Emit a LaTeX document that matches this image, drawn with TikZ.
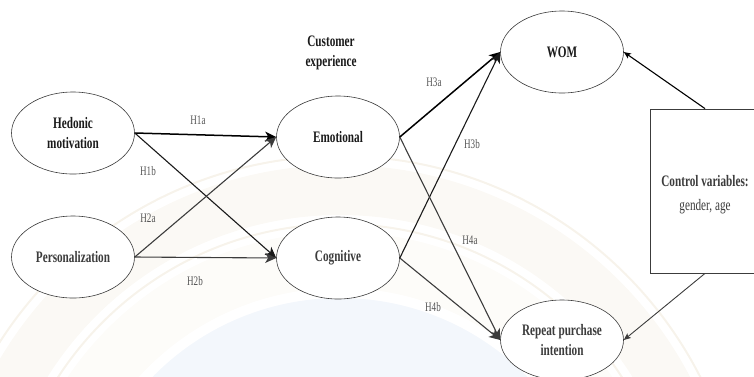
\documentclass[tikz,border=0pt]{standalone}
\usepackage{fontspec}
\setmainfont{Liberation Serif}[FakeStretch=0.7]
\usetikzlibrary{arrows.meta,shapes.geometric}

\definecolor{inkdark}{HTML}{1A1A1A}
\definecolor{inkgrey}{HTML}{3C3C3C}
\definecolor{labgrey}{HTML}{555555}
\definecolor{sealtan}{HTML}{D6C49A}
\definecolor{sealblue}{HTML}{C4D6EE}

\tikzset{
  construct/.style={ellipse, draw=inkgrey, line width=0.6pt, fill=white,
    minimum width=123pt, minimum height=82pt, inner sep=0pt, align=center,
    font=\fontsize{16}{20}\selectfont\bfseries},
  hyp/.style={font=\fontsize{13}{15}\selectfont, text=labgrey, inner sep=0pt},
  strong/.style={draw=black, line width=1.5pt, -{Stealth[length=11pt,width=10pt,inset=3pt]}},
  path1/.style={draw=inkdark, line width=1.1pt, -{Stealth[length=11pt,width=10pt,inset=3pt]}},
  path2/.style={draw=inkgrey, line width=1.1pt, -{Stealth[length=11pt,width=10pt,inset=3pt]}},
  ctrl/.style={line width=1.1pt, -{Stealth[length=7pt,width=6pt,inset=1.5pt]}},
}

\begin{document}
\begin{tikzpicture}[x=1pt,y=-1pt]
\useasboundingbox (0,0) rectangle (754,376);
\clip (0,0) rectangle (754,376);

% faint seal in the background
\coordinate (seal) at (340,560);
\fill[sealtan, opacity=0.1, even odd rule]
  (seal) circle[radius=395pt] (seal) circle[radius=345pt];
\draw[sealtan, opacity=0.2, line width=2pt] (seal) circle[radius=336pt];
\draw[sealtan, opacity=0.2, line width=2pt] (seal) circle[radius=404pt];
\fill[sealtan, opacity=0.06, even odd rule]
  (seal) circle[radius=328pt] (seal) circle[radius=272pt];
\fill[sealblue, opacity=0.2] (seal) circle[radius=262pt];

% constructs
\node[construct, text=inkdark] (hed) at (73,133) {Hedonic\\motivation};
\node[construct, text=inkgrey] (per) at (73,257) {Personalization};
\node[construct, text=inkdark] (emo) at (338,137) {Emotional};
\node[construct, text=inkgrey] (cog) at (338,258) {Cognitive};
\node[construct, text=inkdark] (wom) at (562,52) {WOM};
\node[construct, text=inkgrey, minimum height=80pt] (rep) at (562,340) {Repeat purchase\\intention};

\node[align=center, text=inkdark, font=\fontsize{16}{20}\selectfont\bfseries] (cx) at (331,53) {Customer\\experience};

% control variables box
\node[draw=inkgrey, line width=0.8pt, fill=white, minimum width=110pt, minimum height=164pt,
  inner sep=0pt] (ctl) at (705,191) {};
\node[align=center, text=inkgrey, font=\fontsize{16}{24}\selectfont] (ctltxt) at (705,195)
  {\textbf{Control variables:}\\gender, age};

% hypothesised paths
\draw[strong] (hed.east) -- (emo.west);
\draw[path1] (hed.east) -- (cog.west);
\draw[path2] (per.east) -- (emo.west);
\draw[path2] (per.east) -- (cog.west);
\draw[strong] (emo.east) -- (wom.west);
\draw[path1] (cog.east) -- (wom.west);
\draw[path2] (emo.east) -- (rep.west);
\draw[path2] (cog.east) -- (rep.west);

\draw[ctrl, draw=black] (ctl.north) -- (wom.east);
\draw[ctrl, draw=inkgrey, line width=0.9pt] (ctl.south) -- (rep.east);

% path labels
\node[hyp] (l1a) at (198,120) {H1a};
\node[hyp] (l1b) at (148,171) {H1b};
\node[hyp] (l2a) at (148,218) {H2a};
\node[hyp] (l2b) at (195,281) {H2b};
\node[hyp] (l3a) at (434,82) {H3a};
\node[hyp] (l3b) at (472,144) {H3b};
\node[hyp] (l4a) at (470,240) {H4a};
\node[hyp] (l4b) at (433,307) {H4b};
\end{tikzpicture}
\end{document}
